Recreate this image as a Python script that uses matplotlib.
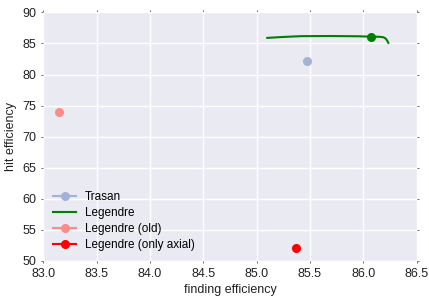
import matplotlib
matplotlib.use("Agg")
import matplotlib.pyplot as plt

# Data
trasan_x = [85.47]
trasan_y = [82.15]
legendre_x = [85.10, 85.25, 85.42, 85.70, 85.95, 86.07, 86.15, 86.19, 86.21, 86.225, 86.235]
legendre_y = [85.90, 86.05, 86.18, 86.20, 86.16, 86.10, 86.08, 86.00, 85.80, 85.45, 85.10]
legendre_marker_x = [86.07]
legendre_marker_y = [86.10]
old_x = [83.15]
old_y = [74.0]
axial_x = [85.37]
axial_y = [52.0]

plt.rcParams['font.family'] = ['Liberation Sans', 'DejaVu Sans']

fig = plt.figure(figsize=(4.29, 2.96), dpi=100)
ax = fig.add_axes([0.101, 0.119, 0.870, 0.839])
ax.set_facecolor('#EAEAF2')
for s in ax.spines.values():
    s.set_visible(False)
ax.grid(True, color='white', linewidth=1.0)
ax.set_axisbelow(True)

ax.plot(trasan_x, trasan_y, '-o', color='#a4b2d8', markersize=5.5, label='Trasan')
ax.plot(legendre_x, legendre_y, '-', color='green', linewidth=1.5, label='Legendre')
ax.plot(legendre_marker_x, legendre_marker_y, 'o', color='green', markersize=5.5)
ax.plot(old_x, old_y, '-o', color='#ff8a8a', markersize=5.5, label='Legendre (old)')
ax.plot(axial_x, axial_y, '-o', color='red', markersize=5.5, label='Legendre (only axial)')

ax.set_xlim(83.0, 86.5)
ax.set_ylim(50, 90)
ax.set_xticks([83.0, 83.5, 84.0, 84.5, 85.0, 85.5, 86.0, 86.5])
ax.set_yticks([50, 55, 60, 65, 70, 75, 80, 85, 90])
ax.set_xticklabels(['83.0', '83.5', '84.0', '84.5', '85.0', '85.5', '86.0', '86.5'])
ax.tick_params(axis='both', which='both', direction='out', length=1.5, width=0.6,
               color='#555555', labelsize=9, labelcolor='#222222', pad=3.5,
               top=True, right=True)
ax.set_xlabel('finding efficiency', fontsize=9, color='#222222', labelpad=3)
ax.set_ylabel('hit efficiency', fontsize=9, color='#222222', labelpad=4)

leg = ax.legend(loc='lower left', frameon=False, fontsize=8.5, handlelength=2.0,
                borderaxespad=0.4, labelspacing=0.35, handletextpad=0.7)

fig.savefig('out.png', dpi=100)
